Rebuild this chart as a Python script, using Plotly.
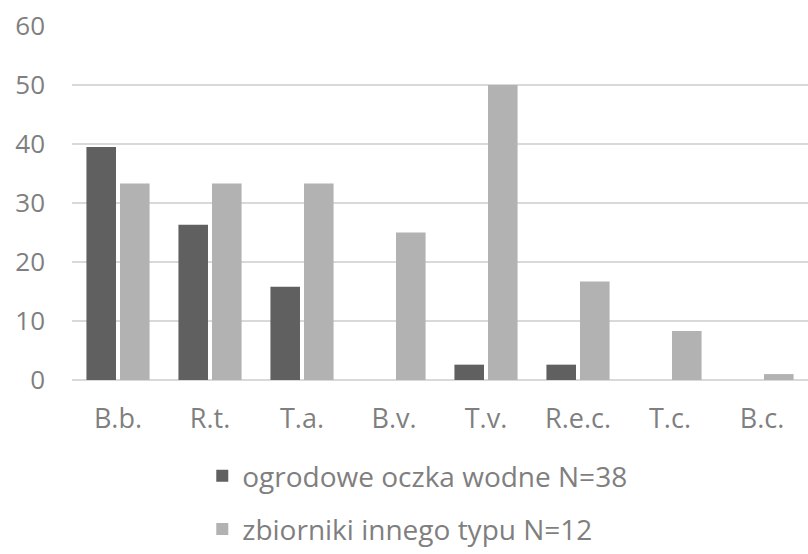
import plotly.graph_objects as go

categories = ["B.b.", "R.t.", "T.a.", "B.v.", "T.v.", "R.e.c.", "T.c.", "B.c."]
garden_ponds = [39.5, 26.3, 15.8, 0, 2.6, 2.6, 0, 0]
other_reservoirs = [33.3, 33.3, 33.3, 25.0, 50.0, 16.7, 8.3, 1.0]
series_names = ["ogrodowe oczka wodne N=38", "zbiorniki innego typu N=12"]

font_family = "Open Sans, DejaVu Sans, sans-serif"
text_color = "#7f7f7f"

fig = go.Figure()
fig.add_trace(go.Bar(x=categories, y=garden_ponds, name=series_names[0],
                     marker=dict(color="#606060", line=dict(width=0)),
                     legendgroup="a"))
fig.add_trace(go.Bar(x=categories, y=other_reservoirs, name=series_names[1],
                     marker=dict(color="#b2b2b2", line=dict(width=0)),
                     legendgroup="b"))

fig.update_layout(
    width=808, height=554,
    margin=dict(l=72, r=0, t=26, b=174),
    paper_bgcolor="white", plot_bgcolor="white",
    barmode="group", bargap=0.27, bargroupgap=0.12,
    font=dict(family=font_family, color=text_color, size=26),
    showlegend=True,
    legend=dict(orientation="v", x=0.177, xanchor="left",
                yref="container", y=1 - 451 / 554, yanchor="top",
                font=dict(size=28, color=text_color), tracegroupgap=14,
                itemwidth=30, bgcolor="rgba(0,0,0,0)"),
    xaxis=dict(showgrid=False, showline=False, zeroline=False, ticks="",
               automargin=False, ticklabelstandoff=20,
               tickfont=dict(size=27, color=text_color)),
    yaxis=dict(range=[0, 60], dtick=10, showgrid=True, gridcolor="#d9d9d9",
               gridwidth=1.5, zeroline=True, zerolinecolor="#d9d9d9", zerolinewidth=1.5,
               showline=False, ticks="", automargin=False, ticklabelstandoff=26,
               tickfont=dict(size=26, color=text_color)),
)

fig.write_html("out.html")
